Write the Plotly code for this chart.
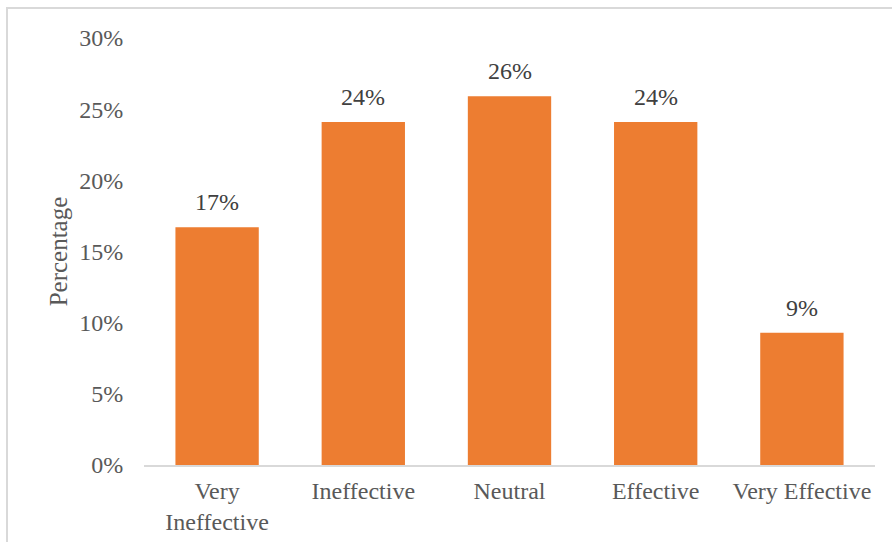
import plotly.graph_objects as go

# Survey responses on perceived effectiveness (share of respondents)
categories = ["Very<br>Ineffective", "Ineffective", "Neutral", "Effective", "Very Effective"]
percentages = [0.167, 0.241, 0.259, 0.241, 0.093]

y_ticks = [0, 0.05, 0.10, 0.15, 0.20, 0.25, 0.30]

FONT = "Liberation Serif"
BAR_COLOR = "#ED7D31"
AXIS_TEXT = "#595959"
LABEL_TEXT = "#404040"

fig = go.Figure(
    go.Bar(
        x=categories,
        y=percentages,
        marker=dict(color=BAR_COLOR, line=dict(width=0)),
        hovertemplate="%{x}: %{y:.1%}<extra></extra>",
    )
)

# Value labels above each bar
for cat, val in zip(categories, percentages):
    fig.add_annotation(
        x=cat, y=val, xref="x", yref="y",
        text=f"{val:.0%}", showarrow=False,
        yanchor="bottom", yshift=10,
        font=dict(family=FONT, size=24, color=LABEL_TEXT),
    )

fig.update_layout(
    width=892, height=542,
    margin=dict(l=144, r=17, t=38, b=77, autoexpand=False),
    paper_bgcolor="white", plot_bgcolor="white",
    bargap=0.43,
    showlegend=False,
    font=dict(family=FONT, size=24, color=AXIS_TEXT),
    # chart frame
    shapes=[
        dict(type="rect", xref="paper", yref="paper",
             x0=-137 / 731, x1=1.2, y0=-0.3, y1=1 + 30 / 427,
             line=dict(color="#d9d9d9", width=2), fillcolor="rgba(0,0,0,0)",
             layer="below"),
    ],
)

fig.update_xaxes(
    automargin=False,
    showline=True, linecolor="#d9d9d9", linewidth=2,
    showgrid=False, ticks="outside", ticklen=3, tickcolor="rgba(0,0,0,0)",
    tickfont=dict(family=FONT, size=24, color=AXIS_TEXT),
)

fig.update_yaxes(
    automargin=False,
    range=[0, 0.30], tickvals=y_ticks, tickformat=".0%",
    showgrid=False, showline=False, zeroline=False,
    ticks="outside", ticklen=15, tickcolor="rgba(0,0,0,0)",
    tickfont=dict(family=FONT, size=24, color=AXIS_TEXT),
    title=dict(text="Percentage", standoff=4,
               font=dict(family=FONT, size=25, color=AXIS_TEXT)),
)

fig.write_html("out.html")
